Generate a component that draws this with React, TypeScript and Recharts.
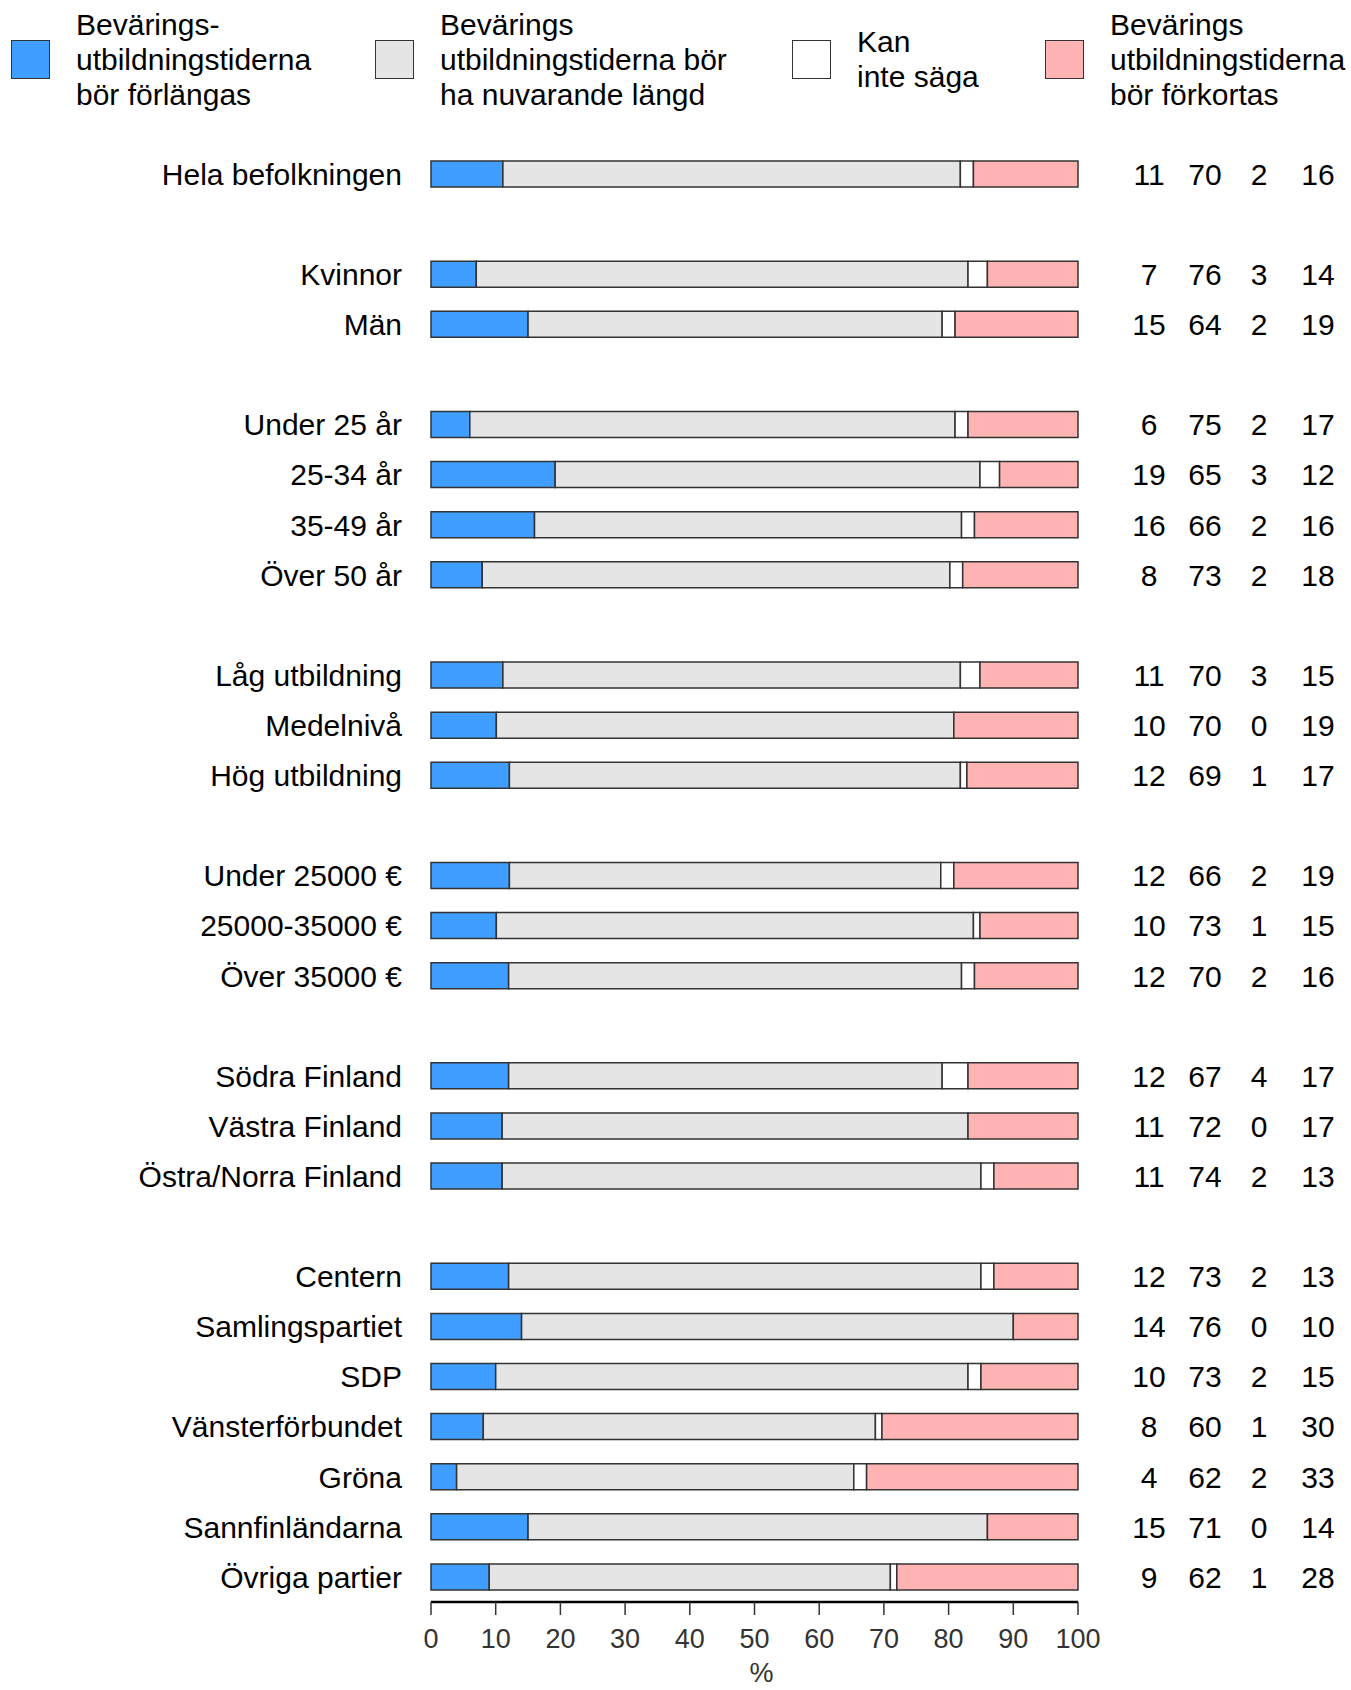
import { BarChart, Bar, XAxis, YAxis } from "recharts";

const FONT = '"Liberation Sans", Arial, Helvetica, sans-serif';

// rows of the chart, "" marks an empty spacer row between groups
const rowLabels = [
  "Hela befolkningen", "",
  "Kvinnor", "Män", "",
  "Under 25 år", "25-34 år", "35-49 år", "Över 50 år", "",
  "Låg utbildning", "Medelnivå", "Hög utbildning", "",
  "Under 25000 €", "25000-35000 €", "Över 35000 €", "",
  "Södra Finland", "Västra Finland", "Östra/Norra Finland", "",
  "Centern", "Samlingspartiet", "SDP", "Vänsterförbundet", "Gröna", "Sannfinländarna", "Övriga partier",
];

const longer = [11, null, 7, 15, null, 6, 19, 16, 8, null, 11, 10, 12, null, 12, 10, 12, null, 12, 11, 11, null, 12, 14, 10, 8, 4, 15, 9];
const current = [70, null, 76, 64, null, 75, 65, 66, 73, null, 70, 70, 69, null, 66, 73, 70, null, 67, 72, 74, null, 73, 76, 73, 60, 62, 71, 62];
const cantSay = [2, null, 3, 2, null, 2, 3, 2, 2, null, 3, 0, 1, null, 2, 1, 2, null, 4, 0, 2, null, 2, 0, 2, 1, 2, 0, 1];
const shorter = [16, null, 14, 19, null, 17, 12, 16, 18, null, 15, 19, 17, null, 19, 15, 16, null, 17, 17, 13, null, 13, 10, 15, 30, 33, 14, 28];

const xTickLabels = [0, 10, 20, 30, 40, 50, 60, 70, 80, 90, 100];

const series = [
  { key: "longer", fill: "#3f9eff", legend: "Bevärings-\nutbildningstiderna\nbör förlängas" },
  { key: "current", fill: "#e5e5e5", legend: "Bevärings\nutbildningstiderna bör\nha nuvarande längd" },
  { key: "cantSay", fill: "#ffffff", legend: "Kan\ninte säga" },
  { key: "shorter", fill: "#ffb3b3", legend: "Bevärings\nutbildningstiderna\nbör förkortas" },
];

const data = rowLabels.map((label, i) => ({
  id: "r" + i,
  label,
  longer: longer[i],
  current: current[i],
  cantSay: cantSay[i],
  shorter: shorter[i],
}));

// layout
const W = 1351;
const H = 1690;
const legendLeft = [11, 375, 792, 1045];
const numCols = [71, 127, 181, 240];

function LeftTick(props: any) {
  const { x, y, index } = props;
  const label = rowLabels[index];
  if (!label) return null;
  return (
    <text x={x} y={y} dy="0.36em" textAnchor="end" fontSize={30} fontFamily={FONT} fill="#000">
      {label}
    </text>
  );
}

function RightTick(props: any) {
  const { x, y, index } = props;
  if (longer[index] == null) return null;
  const vals = [longer[index], current[index], cantSay[index], shorter[index]];
  return (
    <g>
      {vals.map((v, k) => (
        <text key={k} x={x + numCols[k]} y={y} dy="0.36em" textAnchor="middle" fontSize={30} fontFamily={FONT} fill="#000">
          {v}
        </text>
      ))}
    </g>
  );
}

export default function App() {
  return (
    <div style={{ position: "absolute", left: 0, top: 0, width: W, height: H, background: "#fff" }}>
      <div style={{ position: "absolute", left: 0, top: 6, width: W, height: 106, fontFamily: FONT, fontSize: 30, lineHeight: "35px", color: "#000" }}>
        {series.map((s, i) => (
          <div key={s.key} style={{ position: "absolute", left: legendLeft[i], top: 0, height: 106, display: "flex", alignItems: "center" }}>
            <div style={{ width: 39, height: 39, background: s.fill, border: "1.5px solid #333", boxSizing: "border-box", flex: "none" }} />
            <div style={{ marginLeft: 26, whiteSpace: "pre" }}>{s.legend}</div>
          </div>
        ))}
      </div>
      <BarChart
        width={W}
        height={H}
        data={data}
        layout="vertical"
        stackOffset="expand"
        barSize={26}
        margin={{ top: 149, right: 0, bottom: 0, left: 0 }}
        style={{ position: "absolute", left: 0, top: 0 }}
      >
        <XAxis
          type="number"
          domain={[0, 1]}
          ticks={xTickLabels.map((t) => t / 100)}
          tickFormatter={(v: number) => String(Math.round(v * 100))}
          height={88}
          axisLine={{ stroke: "#000", strokeWidth: 2.5 }}
          tickLine={{ stroke: "#333", strokeWidth: 1.5 }}
          tickSize={13}
          tickMargin={14}
          tick={{ fontSize: 27, fontFamily: FONT, fill: "#333" }}
          interval={0}
          label={{ value: "%", position: "insideBottom", offset: 8, dx: 7, fontSize: 27, fontFamily: FONT, fill: "#333" }}
        />
        <YAxis
          yAxisId="left"
          type="category"
          dataKey="id"
          width={431}
          axisLine={false}
          tickLine={false}
          tickSize={0}
          tickMargin={29}
          interval={0}
          tick={LeftTick}
        />
        <YAxis
          yAxisId="right"
          orientation="right"
          type="category"
          dataKey="id"
          width={273}
          axisLine={false}
          tickLine={false}
          tickSize={0}
          tickMargin={0}
          interval={0}
          tick={RightTick}
        />
        {series.map((s) => (
          <Bar
            key={s.key}
            dataKey={s.key}
            stackId="a"
            yAxisId="left"
            fill={s.fill}
            stroke="#333"
            strokeWidth={1.5}
            isAnimationActive={false}
          />
        ))}
      </BarChart>
    </div>
  );
}
